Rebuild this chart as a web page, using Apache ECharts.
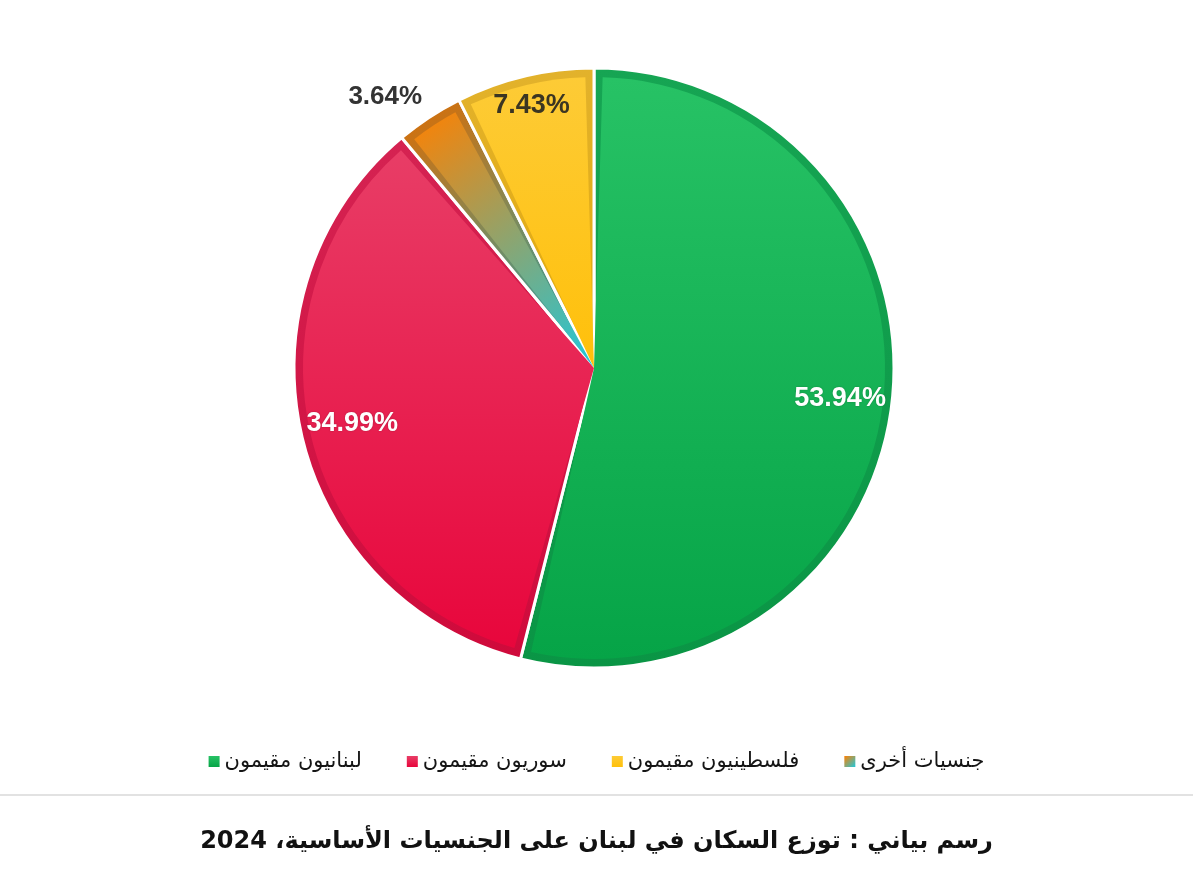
<!DOCTYPE html>
<html><head><meta charset="utf-8">
<script src="https://cdn.jsdelivr.net/npm/echarts@6/dist/echarts.min.js"></script>
<style>html,body{margin:0;padding:0;background:#fff}#c{width:1193px;height:896px}</style>
</head><body><div id="c"></div>
<script>
// ---- data ----
const categories = ['لبنانيون مقيمون', 'سوريون مقيمون', 'جنسيات أخرى', 'فلسطينيون مقيمون'];
const values = [53.94, 34.99, 3.64, 7.43];
const legendOrder = ['لبنانيون مقيمون', 'سوريون مقيمون', 'فلسطينيون مقيمون', 'جنسيات أخرى'];
const titleText = 'رسم بياني : توزع السكان في لبنان على الجنسيات الأساسية، 2024';

// ---- styles ----
const fillTop = ['#27c265', '#e83d66', '#ff8000', '#fdcb36'];
const fillBottom = ['#06a447', '#e8063c', '#1ec8dc', '#ffc00a'];
const frameTop = ['#16a553', '#d52352', '#e06c00', '#e2b22c'];
const frameBottom = ['#0a9545', '#cf0a3b', '#18a8b9', '#e3a90a'];
const arabicFont = "'DejaVu Sans', sans-serif";
const numFont = "'Liberation Sans', Arial, sans-serif";

function grad(a, b, diag) {
  return new echarts.graphic.LinearGradient(0, 0, diag ? 1 : 0, 1, [
    { offset: 0, color: a }, { offset: 1, color: b }
  ]);
}
const fmt = p => p.value.toFixed(2) + '%';
const center = [594, 368];

const mainData = categories.map((n, i) => ({
  name: n, value: values[i],
  itemStyle: { color: grad(fillTop[i], fillBottom[i], i === 2) }
}));
const frameData = categories.map((n, i) => ({
  name: n, value: values[i],
  itemStyle: { color: grad(frameTop[i], frameBottom[i], i === 2) },
  label: i === 2 ? { show: true } : { show: false }
}));
function labelData(showIdx, color) {
  return categories.map((n, i) => ({
    name: n, value: values[i],
    label: showIdx.indexOf(i) >= 0 ? { show: true, color: color } : { show: false }
  }));
}
const labelBase = {
  type: 'pie', center: center, silent: true, z: 5,
  avoidLabelOverlap: false, legendHoverLink: false,
  itemStyle: { color: 'rgba(0,0,0,0)' },
  emphasis: { disabled: true },
  labelLine: { show: false },
  label: {
    position: 'inside', formatter: fmt, fontFamily: numFont,
    fontSize: 27, fontWeight: 'bold',
    textShadowColor: 'rgba(0,0,0,0.25)', textShadowBlur: 2
  }
};

const chart = echarts.init(document.getElementById('c'));
chart.setOption({
  backgroundColor: '#ffffff',
  animation: false,
  title: {
    text: titleText, left: 'center', top: 825,
    textStyle: { fontFamily: arabicFont, fontSize: 24, fontWeight: 'bold', color: '#111' }
  },
  legend: {
    data: legendOrder, top: 746, left: 'center', itemGap: 45,
    icon: 'rect', itemWidth: 11, itemHeight: 11, selectedMode: false,
    textStyle: { fontFamily: arabicFont, fontSize: 21, color: '#151515' }
  },
  graphic: [{
    type: 'rect', left: 0, top: 794, shape: { width: 1193, height: 2 },
    style: { fill: '#e2e2e2' }, silent: true
  }],
  series: [
    {
      type: 'pie', name: 'main', center: center, radius: [0, 291], padAngle: 3.4, z: 3,
      avoidLabelOverlap: false, emphasis: { disabled: true },
      label: { show: false }, labelLine: { show: false },
      data: mainData
    },
    {
      type: 'pie', name: 'frame', center: center, radius: [0, 300], z: 2,
      avoidLabelOverlap: false, emphasis: { disabled: true },
      itemStyle: { borderColor: '#ffffff', borderWidth: 3 },
      label: {
        show: false, position: 'outside', formatter: fmt, fontFamily: numFont,
        fontSize: 26, fontWeight: 'bold', color: '#333', distanceToLabelLine: -6
      },
      labelLine: { show: false, length: 24, length2: 0 },
      data: frameData
    },
    Object.assign({}, labelBase, { name: 'lab1', radius: [190, 300], data: labelData([0, 1], '#ffffff') }),
    Object.assign({}, labelBase, {
      name: 'lab2', radius: [234, 300], data: labelData([3], '#3b3522'),
      label: Object.assign({}, labelBase.label, { textShadowBlur: 0 })
    })
  ]
});
</script></body></html>
